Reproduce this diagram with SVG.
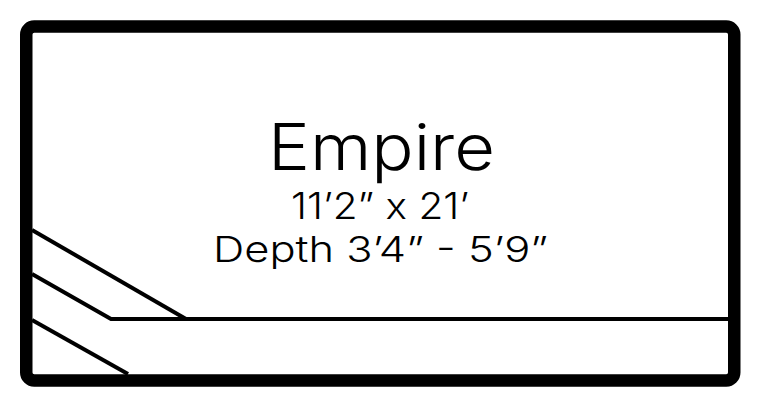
<svg xmlns="http://www.w3.org/2000/svg" width="761" height="407" viewBox="0 0 761 407">
<style>
.t{font-family:Inter,"Noto Sans","Liberation Sans",sans-serif;font-weight:300;fill:#000;text-anchor:middle}
.ln{stroke:#000;stroke-width:4;fill:none}
</style>
<rect width="761" height="407" fill="#fff"/>
<g id="pool">
<rect x="26.25" y="26.5" width="708" height="354" rx="8" ry="8" fill="#fff" stroke="#000" stroke-width="12.5"/>
</g>
<g id="steps">
<path class="ln" d="M32 230 L186 319"/>
<path class="ln" d="M32 274 L111 319 L728 319"/>
<path class="ln" d="M32 320 L128 374"/>
</g>
<g id="label">
<text class="t" x="381.5" y="170" font-size="64" textLength="227" lengthAdjust="spacingAndGlyphs">Empire</text>
<text class="t" x="380" y="219" font-size="37" textLength="178" lengthAdjust="spacingAndGlyphs">11’2” x 21’</text>
<text class="t" x="380.5" y="262" font-size="36" textLength="335" lengthAdjust="spacingAndGlyphs">Depth 3’4” - 5’9”</text>
</g>
</svg>
